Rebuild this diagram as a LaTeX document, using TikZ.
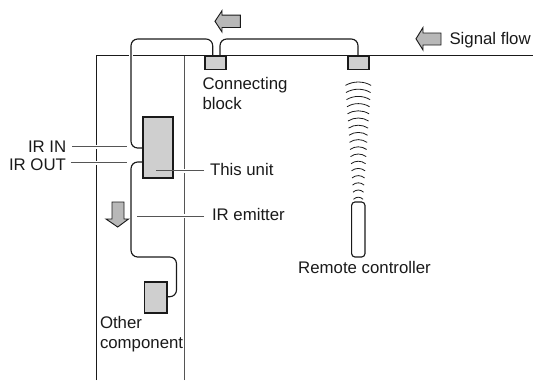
\documentclass[tikz,border=0pt]{standalone}
\usepackage{fontspec}
\setmainfont{Liberation Sans}
\usetikzlibrary{calc}
\definecolor{boxgrey}{HTML}{CFCFCF}
\definecolor{arrowgrey}{HTML}{B8B8B8}
\definecolor{inkc}{HTML}{1A1A1A}
\definecolor{leadc}{HTML}{555555}
\tikzset{
  box/.style={draw=inkc,fill=boxgrey,line width=0.85pt,inner sep=0pt,outer sep=0pt,minimum width=#1},
  wall/.style={draw=inkc,line width=0.8pt},
  cable/.style={draw=inkc,line width=0.85pt,rounded corners=5pt},
  halo/.style={draw=white,line width=3pt},
  leader/.style={draw=leadc,line width=0.75pt},
  lab/.style={text=inkc,inner sep=0pt,outer sep=0pt,font=\fontsize{12.6}{15.5}\selectfont,align=left},
  flow/.style={draw=inkc,fill=arrowgrey,line width=0.7pt,line join=miter},
  wave/.style={draw=inkc,line width=0.6pt},
}
\begin{document}
\begin{tikzpicture}[x=0.75pt,y=-0.75pt]
\useasboundingbox (0,0) rectangle (533,380);
% walls
\coordinate (wallL) at (96.5,380);
\coordinate (wallR) at (184.7,380);
\coordinate (wallLt) at (96.5,55.5);
\coordinate (wallRt) at (184.7,55.5);
\coordinate (wallE) at (533,55.5);
\draw[wall] (wallL) -- (wallLt) -- (wallE);
\draw[wall,draw=leadc] (wallR) -- (wallRt);
% blocks
\node[box=21*0.75pt,minimum height=13.5*0.75pt] (blockA) at (215.5,62.8) {};
\node[box=21*0.75pt,minimum height=13.5*0.75pt] (blockB) at (358.5,62.8) {};
\node[box=30*0.75pt,minimum height=61*0.75pt] (unit) at (158,147.5) {};
\node[box=22.5*0.75pt,minimum height=31*0.75pt] (other) at (155.7,297.5) {};
\node[draw=inkc,line width=0.85pt,fill=white,rounded corners=2.5pt,minimum width=13.3*0.75pt,minimum height=55*0.75pt,inner sep=0pt,outer sep=0pt] (remote) at (358.3,229.5) {};
% cables
\coordinate (a1) at (212.7,55.5);
\coordinate (b1) at (220,55.5);
\coordinate (b2) at (358,55.5);
\coordinate (uIn) at (143,148);
\coordinate (uOut) at (143,162);
\coordinate (oIn) at (167,296.7);
\draw[halo] (131,49) -- (131,62);
\draw[cable] (a1) -- (212.7,39) -- (131,39) -- (131,148) -- (uIn);
\draw[cable] (b1) -- (220,39) -- (358,39) -- (b2);
\draw[cable] (uOut) -- (131,162) -- (131,257) -- (176.5,257) -- (176.5,296.7) -- (oIn);
% labels
\node[lab,anchor=base west] (lIrIn) at (28,152) {IR IN};
\node[lab,anchor=base west] (lIrOut) at (9,170) {IR OUT};
\node[lab,anchor=base west] (lThis) at (210,175.7) {This unit};
\node[lab,anchor=base west] (lEmit) at (212,220.7) {IR emitter};
\node[lab,anchor=north west] (lConn) at (202.5,77) {Connecting\\block};
\node[lab,anchor=north west] (lOther) at (100,316) {Other\\component};
\node[lab,anchor=base] (lRemote) at (364.5,273) {Remote controller};
\node[lab,anchor=base west] (lFlow) at (449.5,44) {Signal flow};
% leaders
\coordinate (iIn) at (127,146.5);
\coordinate (iOut) at (127,162.5);
\coordinate (iThis) at (156,170.7);
\coordinate (iEmit) at (136.5,216);
\coordinate (sIn) at ($(lIrIn.east)+(6,0)$);
\coordinate (sOut) at ($(lIrOut.east)+(5,0)$);
\coordinate (sThis) at ($(lThis.west)+(-6,0)$);
\coordinate (sEmit) at ($(lEmit.west)+(-8,0)$);
\draw[halo] (88,146.5) -- (105,146.5);
\draw[halo] (88,162.5) -- (105,162.5);
\draw[halo] (178,170.7) -- (192,170.7);
\draw[halo] (178,216) -- (192,216);
\draw[leader] (sIn |- iIn) -- (iIn);
\draw[leader] (sOut |- iOut) -- (iOut);
\draw[leader] (sThis |- iThis) -- (iThis);
\draw[leader] (sEmit |- iEmit) -- (iEmit);
% flow arrows
\draw[flow] (215,21.3) -- (222,10.7) -- (222,15.2) -- (240.3,15.2) -- (240.3,27.5) -- (222,27.5) -- (222,32) -- cycle;
\draw[flow] (416,38.8) -- (423,27.5) -- (423,33) -- (441,33) -- (441,45) -- (423,45) -- (423,50) -- cycle;
\draw[flow] (117.7,227) -- (106,219) -- (112,219) -- (112,202) -- (124,202) -- (124,219) -- (128.5,219) -- cycle;
% waves
\foreach \i in {0,...,16}{
  \pgfmathsetmacro{\wy}{82+7.2*\i}
  \pgfmathsetmacro{\hw}{12.8-0.5*\i}
  \pgfmathsetmacro{\rise}{3.4-0.08*\i}
  \draw[wave] (358.3-\hw,\wy+\rise) .. controls (358.3-0.4*\hw,\wy-0.33*\rise) and (358.3+0.4*\hw,\wy-0.33*\rise) .. (358.3+\hw,\wy+\rise);
}
\end{tikzpicture}
\end{document}
